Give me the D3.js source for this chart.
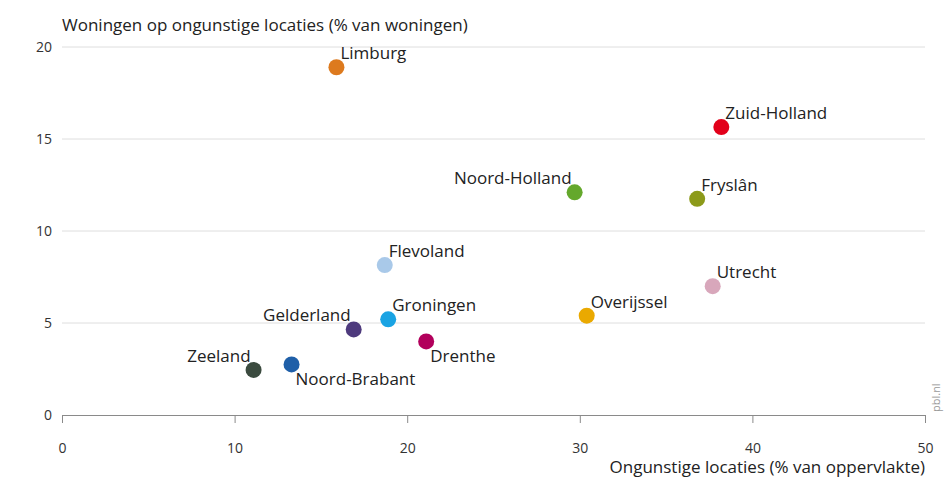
<!DOCTYPE html>
<html>
<head>
<meta charset="utf-8">
<script src="https://cdn.jsdelivr.net/npm/d3@7"></script>
<style>
  html, body { margin: 0; padding: 0; background: #fff; }
  svg { display: block; font-family: "Open Sans", "Noto Sans", sans-serif; }
</style>
</head>
<body>
<svg id="chart" width="946" height="477"></svg>
<script>
const provinces = ["Limburg","Zuid-Holland","Noord-Holland","Fryslân","Flevoland","Utrecht","Groningen","Gelderland","Overijssel","Drenthe","Zeeland","Noord-Brabant"];
const areaShare = [15.9, 38.2, 29.7, 36.8, 18.7, 37.7, 18.9, 16.9, 30.4, 21.1, 11.1, 13.3];
const homeShare = [18.9, 15.65, 12.1, 11.75, 8.15, 7.0, 5.2, 4.65, 5.4, 4.0, 2.45, 2.75];
const colors = ["#dd7a1e","#e2001a","#64a82c","#8c9a1a","#a9c9e9","#d8a7bb","#1aa3e3","#4e3a7d","#eaa900","#b2005c","#3b4b3f","#1f5fa8"];
const labelPos = ["ur","ur","ul","ur","ur","ur","ur","ul","ur","lr","ul","lr"];
const xTicks = [0,10,20,30,40,50];
const yTicks = [0,5,10,15,20];
const xTitle = "Ongunstige locaties (% van oppervlakte)";
const yTitle = "Woningen op ongunstige locaties (% van woningen)";
const source = "pbl.nl";

const svg = d3.select("#chart");
const x = d3.scaleLinear().domain([0,50]).range([62,925]);
const y = d3.scaleLinear().domain([0,20]).range([415,47]);

// gridlines
svg.append("g").selectAll("line").data(yTicks.filter(d => d > 0)).join("line")
  .attr("x1", x(0)).attr("x2", x(50))
  .attr("y1", d => y(d)).attr("y2", d => y(d))
  .attr("stroke", "#dedede").attr("stroke-width", 1);

// x axis
const xAxis = svg.append("g").attr("transform", `translate(0,${y(0)})`)
  .call(d3.axisBottom(x).tickValues(xTicks).tickSize(8).tickPadding(20).tickFormat(d3.format("d")));
xAxis.select(".domain").attr("stroke", "#8a8a8a");
xAxis.selectAll(".tick line").attr("stroke", "#8a8a8a");
xAxis.selectAll("text").attr("font-size", 14).attr("fill", "#333").attr("font-family", "Open Sans");

// y axis labels
const yAxis = svg.append("g").attr("transform", `translate(${x(0)},0)`)
  .call(d3.axisLeft(y).tickValues(yTicks).tickSize(0).tickPadding(10).tickFormat(d3.format("d")));
yAxis.select(".domain").remove();
yAxis.selectAll("text").attr("font-size", 14).attr("fill", "#333").attr("font-family", "Open Sans");

// titles
svg.append("text").attr("x", 62).attr("y", 31).attr("font-size", 17).attr("fill", "#222").text(yTitle);
svg.append("text").attr("x", 925).attr("y", 473).attr("text-anchor", "end").attr("font-size", 17).attr("fill", "#222").text(xTitle);
svg.append("text").attr("transform", "translate(940,412) rotate(-90)").attr("font-size", 11).attr("fill", "#9a9a9a").text(source);

// points
const data = provinces.map((p, i) => ({name: p, x: areaShare[i], y: homeShare[i], c: colors[i], pos: labelPos[i]}));
svg.append("g").selectAll("circle").data(data).join("circle")
  .attr("cx", d => x(d.x)).attr("cy", d => y(d.y)).attr("r", 8)
  .attr("fill", d => d.c);

svg.append("g").selectAll("text").data(data).join("text")
  .attr("x", d => d.pos === "ul" ? x(d.x) - 3 : x(d.x) + 4)
  .attr("y", d => d.pos === "lr" ? y(d.y) + 21 : y(d.y) - 8)
  .attr("text-anchor", d => d.pos === "ul" ? "end" : "start")
  .attr("font-size", 17).attr("fill", "#222")
  .text(d => d.name);
</script>
</body>
</html>
